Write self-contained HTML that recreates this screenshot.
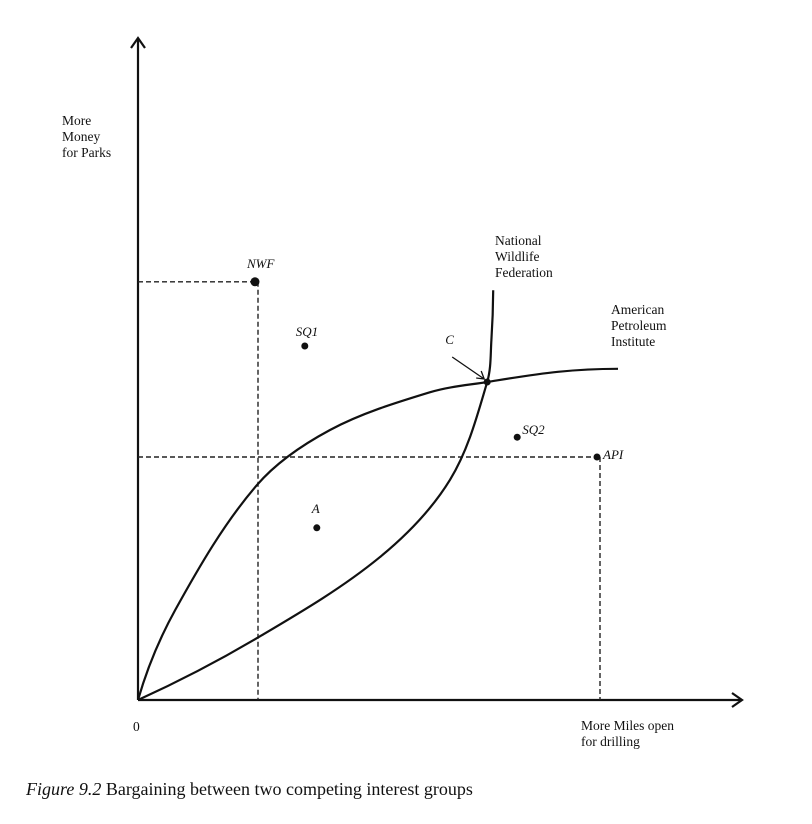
<!DOCTYPE html>
<html><head><meta charset="utf-8"><style>
body{margin:0;background:#fff;}
svg text{font-family:"Liberation Serif",serif;fill:#111;}
</style></head><body>
<svg id="chart" width="812" height="819" viewBox="0 0 812 819" xmlns="http://www.w3.org/2000/svg">
<g id="g"></g>
</svg>
<script>
const pointNames=["NWF","SQ1","C","SQ2","API","A"];
const pointX=[19.5,27.8,58.2,63.2,76.5,29.8];
const pointY=[69.7,59,53,43.8,40.5,28.7];
const apiCurveX=[0,6.2,19.8,32,48.7,58.2,70,80];
const apiCurveY=[0,15,35.8,45,51.3,53,54.7,55.2];
const nwfCurveX=[0,19.8,40.3,52,58.2,58.9,59.2];
const nwfCurveY=[0,10.3,23.8,36.7,53,60,68.3];
const sx=v=>138+v*6, sy=v=>700-v*6;
const NS="http://www.w3.org/2000/svg";
const g=document.getElementById('g');
function mk(tag,attrs,parent){const e=document.createElementNS(NS,tag);for(const k in attrs)e.setAttribute(k,attrs[k]);(parent||g).appendChild(e);return e;}
function txt(x,y,s,size,italic){const t=mk('text',{x:x,y:y,'font-size':size});if(italic)t.setAttribute('font-style','italic');t.textContent=s;return t;}
function unit(dx,dy){const L=Math.hypot(dx,dy)||1;return [dx/L,dy/L];}
function smooth(xs,ys){
 const P=xs.map((x,i)=>[sx(x),sy(ys[i])]);const n=P.length;
 const T=P.map((p,i)=>{if(i===0||i===n-1)return null;return unit(P[i+1][0]-P[i-1][0],P[i+1][1]-P[i-1][1]);});
 const u0=unit(P[1][0]-P[0][0],P[1][1]-P[0][1]);T[0]=unit(2*u0[0]-T[1][0],2*u0[1]-T[1][1]);
 const un=unit(P[n-1][0]-P[n-2][0],P[n-1][1]-P[n-2][1]);T[n-1]=unit(2*un[0]-T[n-2][0],2*un[1]-T[n-2][1]);
 let d=`M${P[0][0]},${P[0][1]}`;
 for(let i=0;i<n-1;i++){const p1=P[i],p2=P[i+1];const L=Math.hypot(p2[0]-p1[0],p2[1]-p1[1])/3;
  d+=` C${p1[0]+T[i][0]*L},${p1[1]+T[i][1]*L} ${p2[0]-T[i+1][0]*L},${p2[1]-T[i+1][1]*L} ${p2[0]},${p2[1]}`;}
 return d;}
let e;
e=mk('line',{x1:138,y1:700,x2:138,y2:40,stroke:'#111','stroke-width':2.2});


e=mk('path',{d:'M131,48 L138,38 L145,48',fill:'none',stroke:'#111','stroke-width':2.2});


e=mk('line',{x1:138,y1:700,x2:740,y2:700,stroke:'#111','stroke-width':2.2});


e=mk('path',{d:'M732,693 L742,700 L732,707',fill:'none',stroke:'#111','stroke-width':2.2});


[0,4].forEach(i=>{
 const px=sx(pointX[i]),py=sy(pointY[i]);
 e=mk('path',{d:`M138,${py} L${px},${py} M${px+3},${py} L${px+3},700`,fill:'none',stroke:'#222','stroke-width':1.4,'stroke-dasharray':'5,3'});
 
 
});
e=mk('path',{d:smooth(apiCurveX,apiCurveY),fill:'none',stroke:'#111','stroke-width':2.2});


e=mk('path',{d:smooth(nwfCurveX,nwfCurveY),fill:'none',stroke:'#111','stroke-width':2.2});


const lab={NWF:[-8,-14],SQ1:[-9,-10],C:[-42,-38],SQ2:[5,-3],API:[6,2],A:[-5,-15]};
pointNames.forEach((n,i)=>{
 const px=sx(pointX[i]),py=sy(pointY[i]);
 e=mk('circle',{cx:px,cy:py,r:n==='NWF'?4.5:3.5,fill:'#111'});
 
 
 e=txt(px+lab[n][0],py+lab[n][1],n,13,true);
 
 
});
const cx=sx(pointX[2]),cy=sy(pointY[2]);
e=mk('path',{d:`M${cx-35},${cy-25} L${cx-3},${cy-3} M${cx-11},${cy-4} L${cx-3},${cy-3} L${cx-6},${cy-11}`,fill:'none',stroke:'#111','stroke-width':1.3});


function block(x,y,lines,name,size){lines.forEach((s,i)=>{e=txt(x,y+i*16,s,size||13.5);});}
block(62,125,["More","Money","for Parks"],'y-axis-title');
block(495,245,["National","Wildlife","Federation"],'nwf-curve-label');
block(611,314,["American","Petroleum","Institute"],'api-curve-label');
block(581,730,["More Miles open","for drilling"],'x-axis-title');
block(133,731,["0"],'origin-label');
e=txt(26,795,"",18);


const ts=mk('tspan',{'font-style':'italic'},e);ts.textContent="Figure 9.2";
const ts2=mk('tspan',{},e);ts2.textContent=" Bargaining between two competing interest groups";
</script>
</body></html>
